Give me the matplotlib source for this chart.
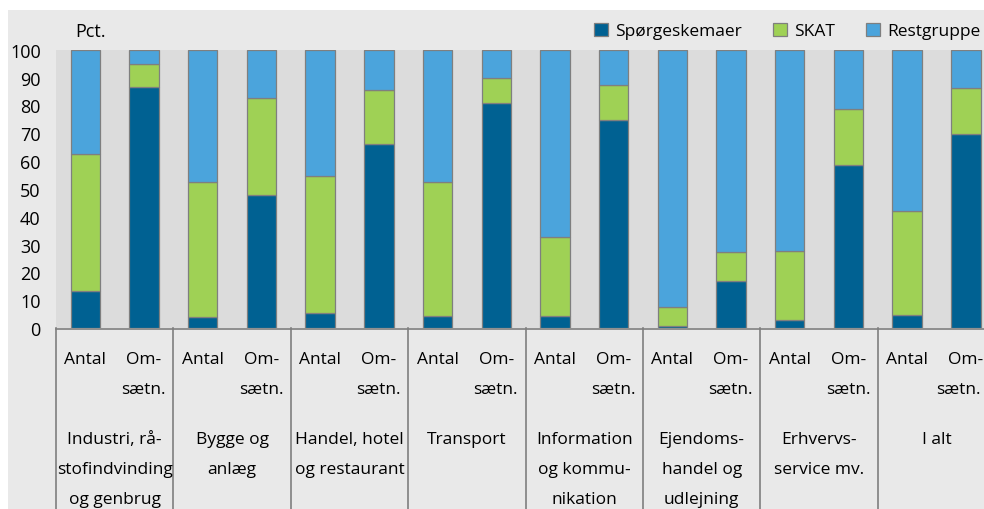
import matplotlib
matplotlib.use("Agg")
import matplotlib.pyplot as plt
from matplotlib.patches import Rectangle, Patch

plt.rcParams["font.family"] = ["Open Sans", "DejaVu Sans"]

# shares in pct, order per group: Antal, Omsaetn.
groups = [
    "Industri, rå-\nstofindvinding\nog genbrug",
    "Bygge og\nanlæg",
    "Handel, hotel\nog restaurant",
    "Transport",
    "Information\nog kommu-\nnikation",
    "Ejendoms-\nhandel og\nudlejning",
    "Erhvervs-\nservice mv.",
    "I alt",
]
sub_labels = ["Antal", "Om-\nsætn."]
spoerge = [13.2, 86.6, 3.8, 47.8, 5.4, 66.0, 4.4, 80.7, 4.3, 74.9, 0.6, 16.9, 3.0, 58.7, 4.6, 69.8]
skat = [49.3, 8.3, 48.7, 34.7, 49.2, 19.5, 48.1, 9.0, 28.3, 12.3, 6.8, 10.3, 24.6, 20.0, 37.5, 16.4]
rest = [37.5, 5.1, 47.5, 17.5, 45.4, 14.5, 47.5, 10.3, 67.4, 12.8, 92.6, 72.8, 72.4, 21.3, 57.9, 13.8]
series = ["Spørgeskemaer", "SKAT", "Restgruppe"]
colors = ["#006192", "#9fd155", "#4ba4dc"]

W, H = 984, 510
fig = plt.figure(figsize=(W / 100, H / 100), dpi=100)
fig.patch.set_facecolor("white")
fig.patches.append(Rectangle((8 / W, 0), 1, (H - 11) / H, transform=fig.transFigure,
                             facecolor="#e9e9e9", edgecolor="none", zorder=-5))

left, top_px, bot_px = 56, 50.7, 329
n = len(spoerge)
ax_w = (len(groups) * 117.4) / W
ax = fig.add_axes([left / W, (H - bot_px) / H, ax_w, (bot_px - top_px) / H])
ax.set_facecolor("#dcdcdc")
xs = list(range(n))
edge = "#7f7f7f"
bottom = [0.0] * n
for vals, col in zip([spoerge, skat, rest], colors):
    ax.bar(xs, vals, width=0.5, bottom=bottom, color=col, edgecolor=edge, linewidth=0.9)
    bottom = [b + v for b, v in zip(bottom, vals)]
ax.set_xlim(-0.5, n - 0.5)
ax.set_ylim(0, 100)
ax.set_yticks(range(0, 101, 10))
ax.tick_params(axis="y", length=0, pad=11, labelsize=13)
ax.set_xticks([])
for s in ax.spines.values():
    s.set_visible(False)

# category table below the plot
tab = fig.add_axes([left / W, 0, ax_w, (H - bot_px) / H])
tab.set_xlim(-0.5, n - 0.5)
tab.set_ylim(H, bot_px)
tab.axis("off")
tab.plot([-0.5, n - 0.5], [bot_px + 0.5, bot_px + 0.5], color=edge, lw=1.2, clip_on=False)
for g in range(len(groups) + 1):
    tab.plot([2 * g - 0.5, 2 * g - 0.5], [bot_px, H], color=edge, lw=1.2, clip_on=False)
fs = 12.5
for g, name in enumerate(groups):
    x0 = 2 * g
    om, saetn = sub_labels[1].split("\n")
    tab.text(x0, 360, sub_labels[0], ha="center", va="center", fontsize=fs)
    tab.text(x0 + 1, 360, om, ha="center", va="center", fontsize=fs)
    # last group is cut by the figure edge, keep the word inside
    tab.text(min(x0 + 1.37, n - 0.74), 390, saetn, ha="right", va="center", fontsize=fs)
    tab.text(x0 + 0.5, 432, name, ha="center", va="top", fontsize=fs, linespacing=2.15)

fig.text(75 / W, (H - 32) / H, "Pct.", ha="left", va="center", fontsize=13)

handles = [Patch(facecolor=c, edgecolor=edge, linewidth=0.9) for c in colors]
fig.legend(handles, series, loc="center right", bbox_to_anchor=(980 / W, (H - 32) / H),
           ncol=3, frameon=False, fontsize=12.5, handlelength=0.8, handleheight=0.8,
           handletextpad=0.4, columnspacing=1.8, borderaxespad=0, borderpad=0)

fig.savefig("out.png", dpi=100)
